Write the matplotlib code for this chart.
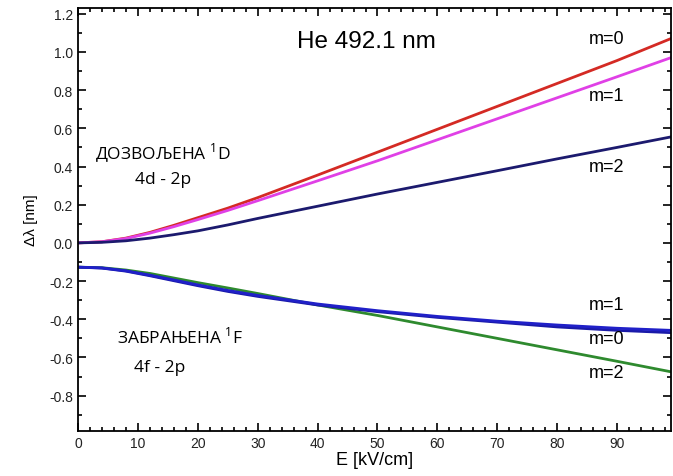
# Stark shift of the He 492.1 nm line: allowed (4d-2p) and forbidden (4f-2p) components
import numpy as np
import matplotlib.pyplot as plt
from matplotlib.ticker import MultipleLocator

# field strength [kV/cm]
E = [0, 4, 8, 12, 16, 20, 25, 30, 40, 50, 60, 70, 80, 90, 99]

# allowed component 1D, shift [nm]
allowed_m0 = [0, 0.006, 0.025, 0.055, 0.092, 0.132, 0.182, 0.237, 0.355, 0.475, 0.595, 0.715, 0.835, 0.955, 1.07]
allowed_m1 = [0, 0.006, 0.023, 0.051, 0.085, 0.122, 0.17, 0.221, 0.325, 0.43, 0.54, 0.65, 0.76, 0.87, 0.97]
allowed_m2 = [0, 0.003, 0.011, 0.025, 0.043, 0.063, 0.094, 0.128, 0.192, 0.256, 0.317, 0.378, 0.44, 0.50, 0.555]

# forbidden component 1F, shift [nm]
forb_m0 = [-0.127, -0.132, -0.148, -0.172, -0.198, -0.224, -0.254, -0.28, -0.325, -0.36, -0.39, -0.415, -0.44, -0.458, -0.47]
forb_m1 = [-0.127, -0.131, -0.146, -0.169, -0.194, -0.22, -0.249, -0.275, -0.32, -0.355, -0.385, -0.41, -0.43, -0.447, -0.458]
forb_m2 = [-0.127, -0.13, -0.142, -0.16, -0.184, -0.208, -0.236, -0.265, -0.325, -0.38, -0.44, -0.50, -0.56, -0.62, -0.675]

fig = plt.figure(figsize=(6.73, 4.77), dpi=100)
ax = fig.add_axes([78/673, 45/477, 593/673, 423/477])

# allowed lines
ax.plot(E, allowed_m0, color='#d42a24', linewidth=2)
ax.plot(E, allowed_m1, color='#e040e6', linewidth=2)
ax.plot(E, allowed_m2, color='#1c1a6e', linewidth=2)
# forbidden lines
ax.plot(E, forb_m2, color='#2e8a2e', linewidth=2)
ax.plot(E, forb_m0, color='#1a1aa8', linewidth=2)
ax.plot(E, forb_m1, color='#2020c8', linewidth=2)

ax.set_xlim(0, 99)
ax.set_ylim(-0.985, 1.23)
ax.xaxis.set_major_locator(MultipleLocator(10))
ax.xaxis.set_minor_locator(MultipleLocator(2))
ax.yaxis.set_major_locator(MultipleLocator(0.2))
ax.yaxis.set_minor_locator(MultipleLocator(0.1))
ax.yaxis.set_major_formatter(plt.FuncFormatter(lambda v, p: '%.1f' % v))
ax.tick_params(which='both', direction='in', top=True, right=True,
               labelsize=10, width=1.2, labelcolor='#222222')
ax.tick_params(which='major', length=6)
ax.tick_params(which='minor', length=3)
for s in ax.spines.values():
    s.set_linewidth(1.3)
for lab in ax.get_xticklabels() + ax.get_yticklabels():
    lab.set_family('Liberation Sans')

ax.set_xlabel('E [kV/cm]', fontsize=13, family='Liberation Sans', labelpad=1)
ax.set_ylabel('Δλ [nm]', fontsize=11, family='Liberation Sans', labelpad=8)

ax.text(48.2, 1.058, 'He 492.1 nm', fontsize=17.5, ha='center', va='center',
        family='Liberation Sans')

# m labels
mfont = dict(fontsize=13, ha='center', va='center', family='Liberation Sans')
ax.text(88.2, 1.07, 'm=0', **mfont)
ax.text(88.2, 0.77, 'm=1', **mfont)
ax.text(88.2, 0.40, 'm=2', **mfont)
ax.text(88.2, -0.32, 'm=1', **mfont)
ax.text(88.2, -0.50, 'm=0', **mfont)
ax.text(88.2, -0.68, 'm=2', **mfont)

# transition labels
tfont = dict(fontsize=12.5, ha='center', va='center', family='Open Sans')
ax.text(14.2, 0.475, 'ДОЗВОЉЕНА $^{\\mathregular{1}}$D', **tfont)
ax.text(14.2, 0.335, '4d - 2p', **tfont)
ax.text(17.0, -0.49, 'ЗАБРАЊЕНА $^{\\mathregular{1}}$F', **tfont)
ax.text(13.7, -0.65, '4f - 2p', **tfont)

plt.savefig('out.png', dpi=100)
